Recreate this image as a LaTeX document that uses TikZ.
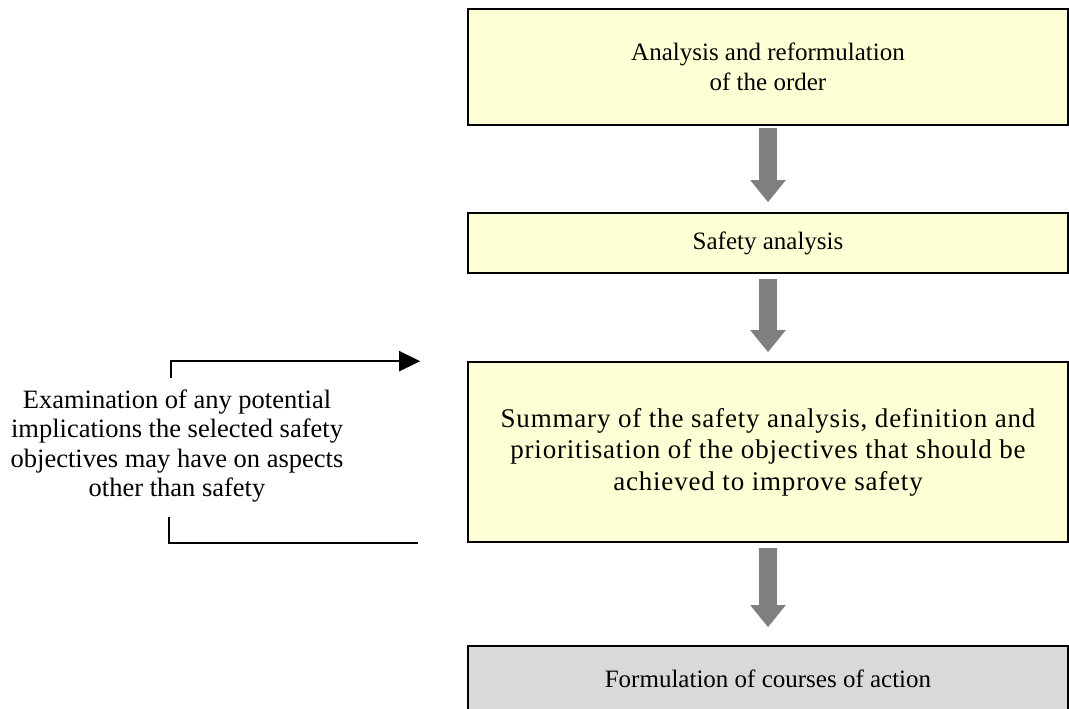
\documentclass[tikz,border=0pt]{standalone}
\usepackage{fontspec}
\setmainfont{Liberation Serif}
\usetikzlibrary{arrows.meta}

\definecolor{boxyellow}{HTML}{FFFFD5}
\definecolor{boxgrey}{HTML}{D9D9D9}
\definecolor{arrowgrey}{HTML}{7F7F7F}

\begin{document}
\begin{tikzpicture}[x=1pt, y=1pt,
	stepbox/.style={draw=black, line width=1.6pt, fill=boxyellow, minimum width=600pt, align=center, inner sep=0pt, font=\fontsize{25}{30}\selectfont},
	downarrow/.style={draw=arrowgrey, line width=18pt, -{Triangle[length=22pt, width=34pt]}, arrowgrey},
	feedback/.style={line width=1.8pt}]
	
	\useasboundingbox (0,0) rectangle (1069,709);
	
	\node[stepbox, minimum height=116pt] (order) at (768,642) {Analysis and reformulation\\of the order};
	\node[stepbox, minimum height=60pt] (safety) at (768,466) {Safety analysis};
	\node[stepbox, minimum height=180pt, font=\fontsize{27}{31.5}\selectfont\addfontfeatures{LetterSpace=3}] (summary) at (768,257) {Summary of the safety analysis, definition and\\prioritisation of the objectives that should be\\achieved to improve safety};
	\node[stepbox, minimum height=66pt, fill=boxgrey] (action) at (768,30) {Formulation of courses of action};
	
	\draw[downarrow] ([yshift=-2pt]order.south) -- ([yshift=10pt]safety.north);
	\draw[downarrow] ([yshift=-5pt]safety.south) -- ([yshift=9pt]summary.north);
	\draw[downarrow] ([yshift=-5pt]summary.south) -- ([yshift=18pt]action.north);
	
	% side loop
	\node[align=center, font=\fontsize{26.5}{29.5}\selectfont] (exam) at (177,263) {Examination of any potential\\implications the selected safety\\objectives may have on aspects\\other than safety};
	\coordinate (loopin) at (171,331);
	\coordinate (loopout) at (169,192);
	\draw[feedback, -{Triangle[length=21pt, width=20pt]}] (loopin) |- ([xshift=-47pt]summary.north west);
	\draw[feedback] ([xshift=-49pt]summary.south west) -| (loopout);
\end{tikzpicture}
\end{document}
